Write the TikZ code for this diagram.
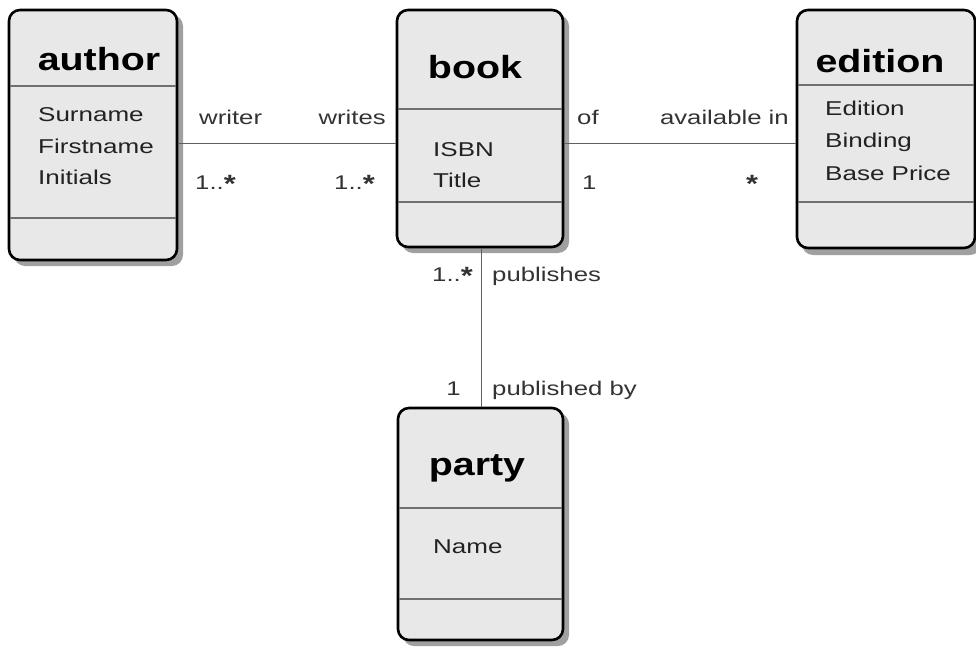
\documentclass[tikz,border=0pt]{standalone}
\usepackage{fontspec}
\setmainfont[FakeStretch=1.3, BoldFeatures={FakeStretch=1.23}]{Liberation Sans}
\begin{document}
\begin{tikzpicture}[x=1pt,y=-1pt,
  cls/.style={draw=black, line width=2.6pt, fill=boxfill, rounded corners=11pt, inner sep=0pt},
  shad/.style={fill=shadowgray, rounded corners=11pt, draw=none},
  divider/.style={draw=divgray, line width=1.2pt},
  conn/.style={draw=conngray, line width=0.9pt},
  ctitle/.style={font=\bfseries\fontsize{32}{32}\selectfont, anchor=base, inner sep=0pt},
  attr/.style={font=\fontsize{20}{20}\selectfont, anchor=base west, inner sep=0pt, text=attrtext},
  lbl/.style={font=\fontsize{19.8}{20}\selectfont, inner sep=0pt, text=lbltext}]
\definecolor{boxfill}{HTML}{E8E8E8}
\definecolor{shadowgray}{HTML}{A0A0A0}
\definecolor{divgray}{HTML}{707070}
\definecolor{conngray}{HTML}{606060}
\definecolor{attrtext}{HTML}{222222}
\definecolor{lbltext}{HTML}{333333}
\newcommand{\bigstar}{\raisebox{-0.3ex}{\fontsize{25}{25}\selectfont\textbf{*}}}
\useasboundingbox (0,0) rectangle (976,648);
% shadows
\fill[shad] (14,15) rectangle (183,266);
\fill[shad] (402,15) rectangle (569,253);
\fill[shad] (802,15) rectangle (981,255);
\fill[shad] (403,413) rectangle (569,646);
% boxes
\node[cls, minimum width=168pt, minimum height=250pt] (author) at (93,135) {};
\node[cls, minimum width=166pt, minimum height=237pt] (book) at (480,128.5) {};
\node[cls, minimum width=178pt, minimum height=238pt] (edition) at (886,129) {};
\node[cls, minimum width=165pt, minimum height=232pt] (party) at (480.5,524) {};
% dividers
\draw[divider] ([xshift=2pt]author.west |- 0,86) -- ([xshift=-2pt]author.east |- 0,86);
\draw[divider] ([xshift=2pt]author.west |- 0,218) -- ([xshift=-2pt]author.east |- 0,218);
\draw[divider] ([xshift=2pt]book.west |- 0,109) -- ([xshift=-2pt]book.east |- 0,109);
\draw[divider] ([xshift=2pt]book.west |- 0,202) -- ([xshift=-2pt]book.east |- 0,202);
\draw[divider] ([xshift=2pt]edition.west |- 0,85) -- ([xshift=-2pt]edition.east |- 0,85);
\draw[divider] ([xshift=2pt]edition.west |- 0,202) -- ([xshift=-2pt]edition.east |- 0,202);
\draw[divider] ([xshift=2pt]party.west |- 0,508) -- ([xshift=-2pt]party.east |- 0,508);
\draw[divider] ([xshift=2pt]party.west |- 0,599) -- ([xshift=-2pt]party.east |- 0,599);
% titles
\node[ctitle] (authorT) at (99,70) {author};
\node[ctitle] (bookT) at (475,78) {book};
\node[ctitle] (editionT) at (880,72) {edition};
\node[ctitle] (partyT) at (477,475) {party};
% attributes
\node[attr] (a1) at (38,121) {Surname};
\node[attr] (a2) at (38,153) {Firstname};
\node[attr] (a3) at (38,184) {Initials};
\node[attr] (b1) at (433,156) {ISBN};
\node[attr] (b2) at (433,187) {Title};
\node[attr] (e1) at (825,115) {Edition};
\node[attr] (e2) at (825,147) {Binding};
\node[attr] (e3) at (825,180) {Base Price};
\node[attr] (p1) at (433,553) {Name};
% connectors
\draw[conn] (author.east |- 0,143) -- (book.west |- 0,143);
\draw[conn] (book.east |- 0,143) -- (edition.west |- 0,143);
\draw[conn] ([xshift=1.5pt]book.south) -- ([xshift=1pt]party.north);
% labels
\node[lbl, anchor=base west] (l1) at (199,124) {writer};
\node[lbl, anchor=base east] (l2) at (386,124) {writes};
\node[lbl, anchor=base west] (l3) at (195,189) {1..\bigstar};
\node[lbl, anchor=base east] (l4) at (375,189) {1..\bigstar};
\node[lbl, anchor=base west] (l5) at (577,124) {of};
\node[lbl, anchor=base east] (l6) at (789,124) {available in};
\node[lbl, anchor=base west] (l7) at (582,189) {1};
\node[lbl, anchor=base] (l8) at (752,189) {\bigstar};
\node[lbl, anchor=base east] (l9) at (473,281) {1..\bigstar};
\node[lbl, anchor=base west] (l10) at (492,281) {publishes};
\node[lbl, anchor=base east] (l11) at (461,395) {1};
\node[lbl, anchor=base west] (l12) at (492,395) {published by};
\end{tikzpicture}
\end{document}
